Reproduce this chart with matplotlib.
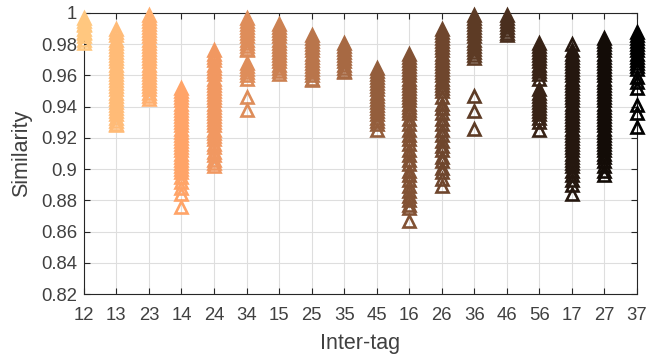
import matplotlib.pyplot as plt
import numpy as np

plt.rcParams['font.family'] = ['Liberation Sans', 'DejaVu Sans']

tags = ['12', '13', '23', '14', '24', '34', '15', '25', '35', '45',
        '16', '26', '36', '46', '56', '17', '27', '37']

sim_12 = [0.997, 0.995, 0.993, 0.992, 0.990, 0.988, 0.987, 0.985, 0.983, 0.981]
sim_13 = [0.990, 0.988, 0.986, 0.983, 0.981, 0.979, 0.977, 0.975, 0.973, 0.971,
          0.969, 0.967, 0.965, 0.963, 0.961, 0.959, 0.957, 0.955, 0.953, 0.951,
          0.949, 0.947, 0.945, 0.943, 0.941, 0.939, 0.937, 0.935, 0.933, 0.931,
          0.929, 0.928]
sim_23 = [0.999, 0.997, 0.995, 0.993, 0.991, 0.989, 0.987, 0.985, 0.983, 0.981,
          0.979, 0.977, 0.975, 0.973, 0.971, 0.969, 0.967, 0.965, 0.963, 0.961,
          0.959, 0.957, 0.955, 0.953, 0.951, 0.949, 0.947, 0.945]
sim_14 = [0.952, 0.950, 0.948, 0.946, 0.944, 0.942, 0.940, 0.938, 0.936, 0.934,
          0.932, 0.930, 0.928, 0.926, 0.924, 0.922, 0.920, 0.918, 0.916, 0.914,
          0.912, 0.910, 0.908, 0.906, 0.904, 0.902, 0.900, 0.898, 0.895, 0.892,
          0.888, 0.884, 0.876]
sim_24 = [0.976, 0.974, 0.972, 0.970, 0.967, 0.965, 0.963, 0.961, 0.958, 0.956,
          0.954, 0.952, 0.950, 0.948, 0.946, 0.944, 0.942, 0.940, 0.938, 0.936,
          0.934, 0.932, 0.930, 0.928, 0.925, 0.923, 0.921, 0.919, 0.916, 0.914,
          0.911, 0.909, 0.906, 0.904, 0.902]
sim_34 = [0.997, 0.995, 0.993, 0.991, 0.989, 0.987, 0.985, 0.983, 0.981, 0.979,
          0.977, 0.976, 0.968, 0.966, 0.964, 0.962, 0.960, 0.958, 0.946, 0.938]
sim_15 = [0.993, 0.991, 0.989, 0.987, 0.985, 0.983, 0.981, 0.979, 0.977, 0.975,
          0.973, 0.971, 0.969, 0.967, 0.965, 0.963, 0.961]
sim_25 = [0.986, 0.984, 0.982, 0.980, 0.978, 0.976, 0.974, 0.972, 0.970, 0.968,
          0.966, 0.964, 0.962, 0.960, 0.958, 0.957]
sim_35 = [0.981, 0.979, 0.977, 0.975, 0.973, 0.971, 0.969, 0.967, 0.965, 0.963,
          0.962]
sim_45 = [0.965, 0.963, 0.961, 0.959, 0.957, 0.955, 0.953, 0.951, 0.949, 0.947,
          0.945, 0.943, 0.941, 0.939, 0.937, 0.935, 0.933, 0.931, 0.929, 0.925]
sim_16 = [0.974, 0.972, 0.970, 0.968, 0.966, 0.964, 0.962, 0.960, 0.958, 0.956,
          0.954, 0.952, 0.950, 0.948, 0.946, 0.944, 0.942, 0.940, 0.938, 0.936,
          0.932, 0.929, 0.925, 0.922, 0.919, 0.916, 0.912, 0.909, 0.906, 0.903,
          0.899, 0.896, 0.893, 0.889, 0.886, 0.883, 0.880, 0.877, 0.875, 0.867]
sim_26 = [0.990, 0.988, 0.986, 0.984, 0.982, 0.980, 0.978, 0.976, 0.974, 0.972,
          0.970, 0.968, 0.966, 0.964, 0.962, 0.960, 0.958, 0.956, 0.954, 0.952,
          0.950, 0.946, 0.942, 0.939, 0.936, 0.932, 0.929, 0.925, 0.922, 0.918,
          0.915, 0.912, 0.908, 0.905, 0.901, 0.898, 0.894, 0.889]
sim_36 = [0.999, 0.997, 0.995, 0.993, 0.991, 0.989, 0.987, 0.985, 0.983, 0.981,
          0.979, 0.977, 0.975, 0.973, 0.971, 0.947, 0.937, 0.926]
sim_46 = [0.999, 0.997, 0.995, 0.993, 0.991, 0.989, 0.987, 0.986]
sim_56 = [0.981, 0.979, 0.977, 0.975, 0.973, 0.971, 0.969, 0.967, 0.965, 0.963,
          0.961, 0.958, 0.951, 0.949, 0.947, 0.945, 0.943, 0.941, 0.939, 0.937,
          0.935, 0.933, 0.930, 0.925]
sim_17 = [0.980, 0.976, 0.974, 0.972, 0.970, 0.968, 0.966, 0.964, 0.962, 0.960,
          0.958, 0.956, 0.954, 0.952, 0.950, 0.948, 0.946, 0.944, 0.942, 0.940,
          0.938, 0.936, 0.934, 0.932, 0.930, 0.928, 0.926, 0.924, 0.922, 0.920,
          0.918, 0.916, 0.914, 0.912, 0.910, 0.908, 0.906, 0.904, 0.902, 0.899,
          0.896, 0.893, 0.890, 0.884]
sim_27 = [0.984, 0.982, 0.980, 0.978, 0.976, 0.974, 0.972, 0.970, 0.968, 0.966,
          0.964, 0.962, 0.960, 0.958, 0.956, 0.954, 0.952, 0.950, 0.948, 0.946,
          0.944, 0.942, 0.940, 0.938, 0.936, 0.934, 0.932, 0.930, 0.928, 0.926,
          0.924, 0.922, 0.920, 0.918, 0.916, 0.914, 0.912, 0.910, 0.908, 0.905,
          0.902, 0.899, 0.896]
sim_37 = [0.988, 0.986, 0.984, 0.982, 0.980, 0.978, 0.976, 0.974, 0.972, 0.970,
          0.968, 0.966, 0.964, 0.959, 0.956, 0.952, 0.941, 0.936, 0.927]

series = [sim_12, sim_13, sim_23, sim_14, sim_24, sim_34, sim_15, sim_25, sim_35,
          sim_45, sim_16, sim_26, sim_36, sim_46, sim_56, sim_17, sim_27, sim_37]

y_ticks = [0.82, 0.84, 0.86, 0.88, 0.9, 0.92, 0.94, 0.96, 0.98, 1.0]

fig = plt.figure(figsize=(6.5, 3.6), dpi=100)
ax = fig.add_axes([0.129, 0.183, 0.851, 0.781])

# light copper for the first pair, black for the last
colors = plt.cm.copper(np.linspace(1, 0, len(tags)))
for i, vals in enumerate(series):
    ax.plot(np.full(len(vals), i + 1), vals, linestyle='none', marker='^',
            markersize=9.2, markerfacecolor='none', markeredgecolor=colors[i],
            markeredgewidth=1.9, clip_on=False, zorder=3)

text_c = '#404040'
ax.set_xlim(1, len(tags))
ax.set_ylim(0.82, 1.0)
ax.set_xticks(np.arange(1, len(tags) + 1))
ax.set_xticklabels(tags)
ax.set_yticks(y_ticks)
ax.set_yticklabels([f'{v:g}' for v in y_ticks])
ax.tick_params(direction='in', length=4, width=0.8, top=True, right=True,
               labelsize=13.3, colors='#262626', labelcolor=text_c)
ax.tick_params(axis='x', pad=9)
ax.tick_params(axis='y', pad=5)
ax.grid(True, color='#dedede', linewidth=0.8, zorder=0)
ax.set_axisbelow(True)
for s in ax.spines.values():
    s.set_color('#262626')
    s.set_linewidth(0.8)

ax.set_xlabel('Inter-tag', fontsize=15.5, color=text_c, labelpad=7)
ax.set_ylabel('Similarity', fontsize=15.5, color=text_c, labelpad=6)

fig.savefig('out.png', dpi=100)
